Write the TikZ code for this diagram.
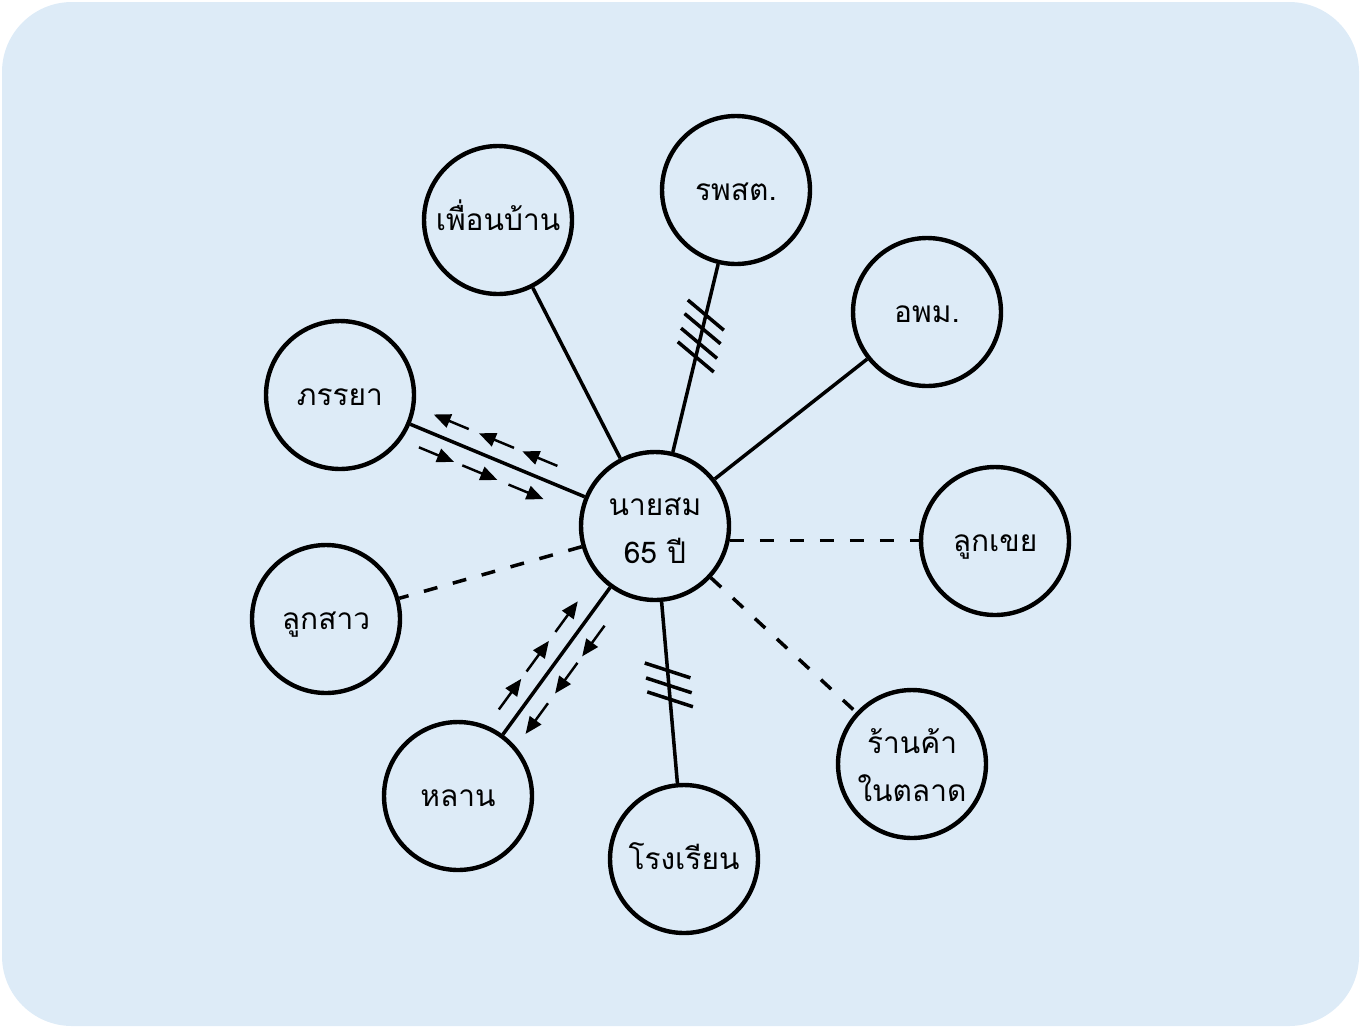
\documentclass[tikz,border=0pt]{standalone}
\usepackage{fontspec}
\newfontfamily\thaifont[Script=Thai]{Loma}
\usetikzlibrary{calc,arrows.meta}

\definecolor{panel}{RGB}{221,235,247}

\tikzset{
  person/.style={circle, draw=black, line width=2.5pt, minimum size=2.96cm,
    inner sep=0pt, align=center, font=\thaifont\fontsize{17}{27.3}\selectfont,
    text height=0.54cm, text depth=0.14cm},
  twoline/.style={text height=1.62cm, text depth=0.14cm},
  link/.style={line width=2pt},
  weak/.style={line width=2pt, dash pattern=on 0.28cm off 0.32cm},
  hatch/.style={line width=2pt},
  flow/.style={line width=1.4pt, -{Triangle[length=0.34cm, width=0.28cm]}}
}

% small arrow beside a link: #1 start node, #2 end node,
% #3 tail distance, #4 head distance, #5 side (90 or -90)
\newcommand\flowarr[5]{%
  \draw[flow] ($(#1)!#3!(#2)!0.36cm!#5:(#2)$) -- ($(#1)!#4!(#2)!0.36cm!#5:(#2)$);}

\begin{document}
\begin{tikzpicture}[x=0.02cm, y=-0.02cm]
  \useasboundingbox (0,0) rectangle (1361,1028);
  \fill[panel, rounded corners=1.4cm] (2,2) rectangle (1359,1026);

  % people and places
  \node[person, twoline] (som) at (655,526) {นายสม\\65 ปี};
  \node[person] (nb)     at (498,220) {เพื่อนบ้าน};
  \node[person] (rps)    at (736,190) {รพสต.};
  \node[person] (opm)    at (927,312) {อพม.};
  \node[person] (wife)   at (340,395) {ภรรยา};
  \node[person] (inlaw)  at (995,541) {ลูกเขย};
  \node[person] (dau)    at (326,619) {ลูกสาว};
  \node[person] (grand)  at (458,796) {หลาน};
  \node[person] (school) at (684,859) {โรงเรียน};
  \node[person, twoline] (shop) at (912,764) {ร้านค้า\\ในตลาด};

  % links
  \draw[link] (som) -- (nb);
  \draw[link] (som) -- (rps);
  \draw[link] (som) -- (opm);
  \draw[link] (som) -- (wife);
  \draw[link] (som) -- (grand);
  \draw[link] (som) -- (school);
  \draw[weak] (som.-11) -- (som.-11 -| inlaw.west);
  \draw[weak] (som) -- (dau);
  \draw[weak] (som) -- (shop);

  % strain marks
  \foreach \d in {3.48cm,3.76cm,4.06cm,4.34cm}
    \draw[hatch] ($(som)!\d!(rps)$) ++(140:0.47cm) -- ++(-40:0.94cm);
  \foreach \d in {2.90cm,3.20cm,3.48cm}
    \draw[hatch] ($(som)!\d!(school)$) ++(162:0.48cm) -- ++(-18:0.96cm);

  % two-way exchange with the wife
  \flowarr{wife}{som}{2.64cm}{1.88cm}{90}
  \flowarr{wife}{som}{3.62cm}{2.86cm}{90}
  \flowarr{wife}{som}{4.56cm}{3.80cm}{90}
  \flowarr{wife}{som}{1.86cm}{2.62cm}{-90}
  \flowarr{wife}{som}{2.80cm}{3.56cm}{-90}
  \flowarr{wife}{som}{3.80cm}{4.56cm}{-90}

  % two-way exchange with the grandchild
  \flowarr{grand}{som}{1.88cm}{2.64cm}{90}
  \flowarr{grand}{som}{2.82cm}{3.58cm}{90}
  \flowarr{grand}{som}{3.80cm}{4.56cm}{90}
  \flowarr{grand}{som}{4.48cm}{3.72cm}{-90}
  \flowarr{grand}{som}{3.56cm}{2.80cm}{-90}
  \flowarr{grand}{som}{2.56cm}{1.80cm}{-90}
\end{tikzpicture}
\end{document}
